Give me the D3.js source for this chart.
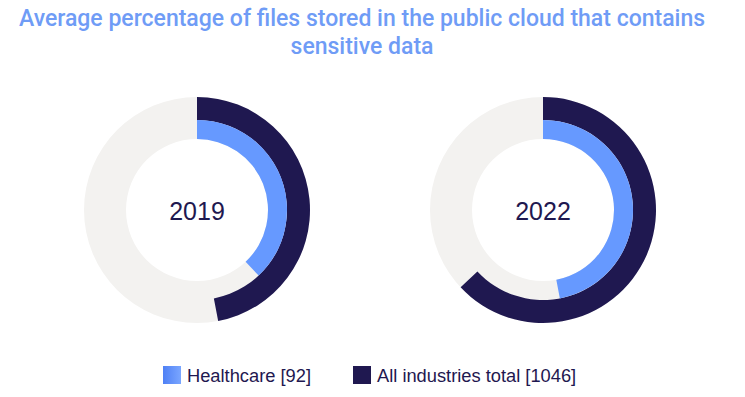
<!DOCTYPE html>
<html>
<head>
<meta charset="utf-8">
<script src="https://cdn.jsdelivr.net/npm/d3@7"></script>
<style>
  body { margin: 0; background: #fff; }
  text { font-family: "Liberation Sans", Arial, sans-serif; }
</style>
</head>
<body>
<div id="chart"></div>
<script>
// values (percent of files)
var years = ["2019", "2022"];
var healthcare = [38, 47];
var allIndustries = [47, 63];
var legendLabels = ["Healthcare [92]", "All industries total [1046]"];
var titleLines = ["Average percentage of files stored in the public cloud that contains", "sensitive data"];

var width = 745, height = 397;
var navy = "#1f1850", blue = "#6699ff", grey = "#f3f2f0";
var rOuter = 113, rMid = 90, rInner = 71;

var svg = d3.select("#chart").append("svg")
	.attr("width", width)
	.attr("height", height);

var defs = svg.append("defs");
var grad = defs.append("linearGradient").attr("id", "hcGrad");
grad.append("stop").attr("offset", "0%").attr("stop-color", "#4f80f5");
grad.append("stop").attr("offset", "100%").attr("stop-color", "#7aa6ff");

svg.selectAll(".title")
	.data(titleLines)
	.enter().append("text")
	.attr("class", "title")
	.attr("x", 362)
	.attr("y", function(d, i) { return 26 + i * 28; })
	.attr("text-anchor", "middle")
	.style("font-family", "Roboto, sans-serif")
	.style("font-weight", 500)
	.style("font-size", "23px")
	.style("fill", "#6f9cf6")
	.text(function(d) { return d; });

var x = d3.scalePoint().domain(years).range([197, 543]);
var angle = d3.scaleLinear().domain([0, 100]).range([0, 2 * Math.PI]);

var arcBg = d3.arc().innerRadius(rInner).outerRadius(rOuter);
var arcAll = d3.arc().innerRadius(rMid).outerRadius(rOuter);
var arcHc = d3.arc().innerRadius(rInner).outerRadius(rMid);

var donut = svg.selectAll(".donut")
	.data(years)
	.enter().append("g")
	.attr("class", "donut")
	.attr("transform", function(d) { return "translate(" + x(d) + ",210)"; });

donut.append("path")
	.attr("d", arcBg({startAngle: 0, endAngle: 2 * Math.PI}))
	.style("fill", grey);

donut.append("path")
	.attr("d", function(d, i) { return arcAll({startAngle: 0, endAngle: angle(allIndustries[i])}); })
	.style("fill", navy);

donut.append("path")
	.attr("d", function(d, i) { return arcHc({startAngle: 0, endAngle: angle(healthcare[i])}); })
	.style("fill", blue);

donut.append("text")
	.attr("y", 10)
	.attr("text-anchor", "middle")
	.style("font-size", "25px")
	.style("fill", navy)
	.text(function(d) { return d; });

var legendX = [163, 353];
var legend = svg.selectAll(".legend")
	.data(legendLabels)
	.enter().append("g")
	.attr("class", "legend")
	.attr("transform", function(d, i) { return "translate(" + legendX[i] + ",366)"; });

legend.append("rect")
	.attr("width", 18)
	.attr("height", 18)
	.style("fill", function(d, i) { return i == 0 ? "url(#hcGrad)" : navy; });

legend.append("text")
	.attr("x", 24)
	.attr("y", 16)
	.style("font-size", "18.3px")
	.style("fill", navy)
	.text(function(d) { return d; });
</script>
</body>
</html>
